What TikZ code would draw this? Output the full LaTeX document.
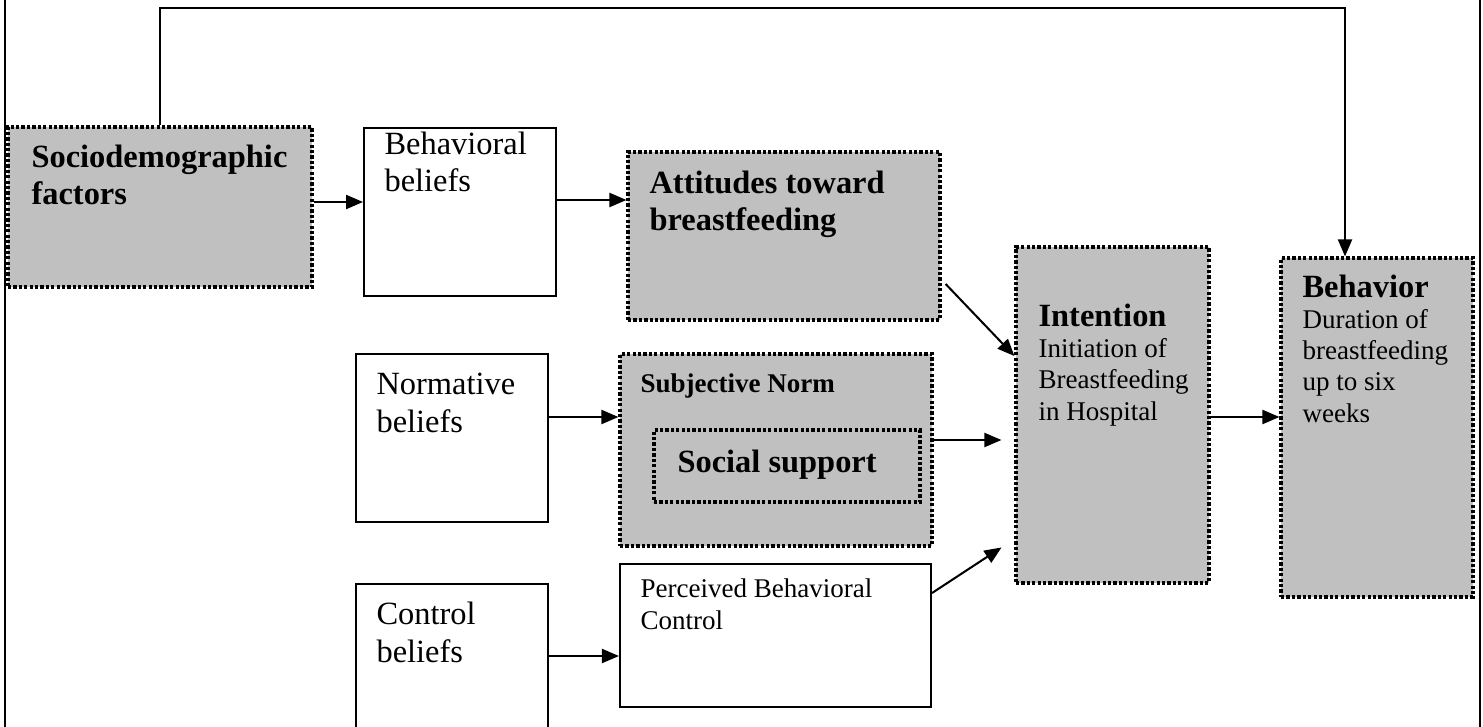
\documentclass[tikz,border=0pt]{standalone}
\usepackage{fontspec}
\setmainfont{Liberation Serif}
\usetikzlibrary{arrows.meta,positioning}
\definecolor{boxgray}{RGB}{192,192,192}

\begin{document}
\begin{tikzpicture}[x=0.37pt,y=-0.37pt,>={Triangle[length=6.3pt,width=5.2pt]}]
\tikzstyle{dotbox}=[rectangle,draw=black,fill=boxgray,line width=1.2pt,dash pattern=on 1.2pt off 0.8pt,inner sep=0pt]
\tikzstyle{plainbox}=[rectangle,draw=black,fill=white,line width=0.75pt,inner sep=0pt]
\tikzstyle{big}=[anchor=base west,align=left,inner sep=0pt,font=\fontsize{12}{13.8}\selectfont]
\tikzstyle{small}=[anchor=base west,align=left,inner sep=0pt,font=\fontsize{10}{11.5}\selectfont]
\tikzstyle{arr}=[->,line width=0.75pt]
\useasboundingbox (0,0) rectangle (1483,727);
\clip (0,0) rectangle (1483,727);
% page frame
\draw [line width=0.8pt] (5,0) -- (5,727);
\draw [line width=0.8pt] (1480,0) -- (1480,727);
% boxes
\node [dotbox,minimum width=112.5pt,minimum height=59.2pt] (socio) at (160,207) {};
\node [plainbox,minimum width=71pt,minimum height=62.2pt] (bbel) at (460,212) {};
\node [dotbox,minimum width=115.4pt,minimum height=62.2pt] (att) at (784,236) {};
\node [plainbox,minimum width=71pt,minimum height=62.2pt] (nbel) at (452,438) {};
\node [dotbox,minimum width=115.4pt,minimum height=71pt] (subj) at (776,450) {};
\node [dotbox,minimum width=98.4pt,minimum height=26.6pt] (soc) at (787,466) {};
\node [plainbox,minimum width=71pt,minimum height=62.2pt] (cbel) at (452,668) {};
\node [plainbox,minimum width=115.1pt,minimum height=52.9pt] (pbc) at (775.5,635.5) {};
\node [dotbox,minimum width=71.4pt,minimum height=124.3pt] (int) at (1112.5,415) {};
\node [dotbox,minimum width=71pt,minimum height=125.4pt] (beh) at (1377,427.5) {};
% texts (base = last line)
\node [big,font=\fontsize{12}{13.8}\selectfont\bfseries] (socio-t) at (31,205) {Sociodemographic\\factors};
\node [big] (bbel-t) at (384,192) {Behavioral\\beliefs};
\node [big,font=\fontsize{12}{13.8}\selectfont\bfseries] (att-t) at (649,231) {Attitudes toward\\breastfeeding};
\node [big] (nbel-t) at (376,432) {Normative\\beliefs};
\node [small,font=\fontsize{10}{11.5}\selectfont\bfseries] (subj-t) at (640,392) {Subjective Norm};
\node [big,font=\fontsize{12}{13.8}\selectfont\bfseries] (soc-t) at (677,472) {Social support};
\node [big] (cbel-t) at (376,662) {Control\\beliefs};
\node [small] (pbc-t) at (640,629) {Perceived Behavioral\\Control};
\node [small] (int-t) at (1038,420) {{\fontsize{12}{13.8}\selectfont\bfseries Intention}\\Initiation of\\Breastfeeding\\in Hospital};
\node [small] (beh-t) at (1302,422) {{\fontsize{12}{13.8}\selectfont\bfseries Behavior}\\Duration of\\breastfeeding\\up to six\\weeks};
% connectors
\coordinate (topR) at (1345,8);
\draw [arr] (socio.north) |- (topR) -- (topR |- beh.north);
\draw [arr] (socio.east |- 0,202) -- (bbel.west |- 0,202);
\draw [arr] (bbel.east |- 0,200) -- (att.west |- 0,200);
\draw [arr] ([xshift=1.5pt]att.east |- 0,284) -- (int.west |- 0,356);
\draw [arr] (nbel.east |- 0,417) -- (subj.west |- 0,417);
\draw [arr,shorten >=4.8pt] (subj.east |- 0,440) -- (int.west |- 0,440);
\draw [arr] (cbel.east |- 0,656) -- (pbc.west |- 0,656);
\draw [arr,shorten >=5.7pt] (pbc.east |- 0,593) -- (int.west |- 0,539);
\draw [arr] (int.east |- 0,417) -- (beh.west |- 0,417);
\end{tikzpicture}
\end{document}
